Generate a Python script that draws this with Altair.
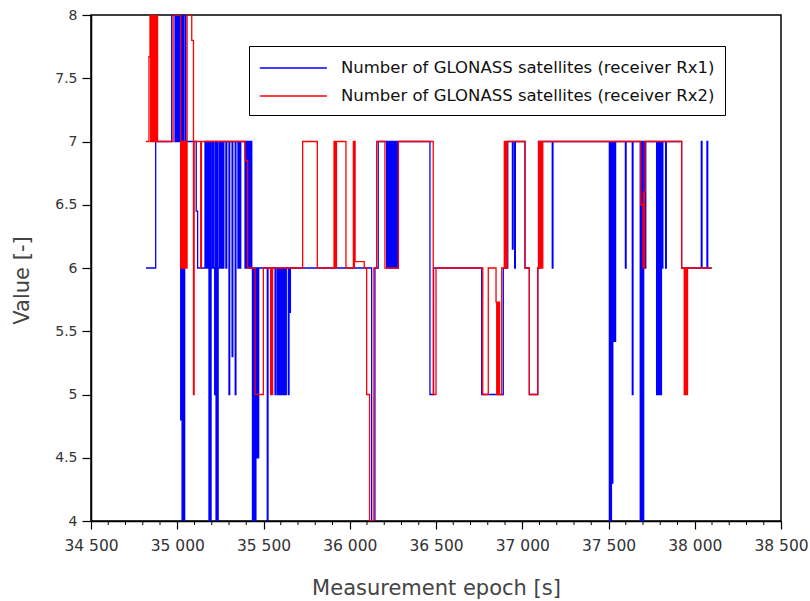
import altair as alt
import pandas as pd

# ---- data ----
rx1_t = [34819, 34875, 34968, 34987, 34992, 34997, 35002, 35007, 35012, 35017,
         35020, 35024, 35028, 35033, 35038, 35043, 35047, 35050,
         35110, 35118, 35161, 35166, 35170, 35175, 35179, 35184, 35188, 35192,
         35196, 35200, 35204, 35208, 35212, 35217, 35221, 35225, 35229, 35233,
         35237, 35242, 35246, 35250, 35254, 35258,
         35265, 35270, 35282, 35287, 35300, 35304, 35318, 35322, 35336, 35340,
         35352, 35357, 35364, 35368,
         35393, 35398, 35403, 35408, 35413, 35418, 35423, 35428, 35432,
         35436, 35440, 35444, 35448, 35452, 35456, 35460, 35464, 35468, 35472,
         35522, 35526,
         35567, 35571, 35580, 35584, 35588, 35592, 35596, 35600, 35604, 35608,
         35612, 35616, 35620, 35624, 35628, 35632, 35644, 35648, 35652, 35656,
         36127, 36146, 36165,
         36214, 36218, 36222, 36226, 36230, 36234, 36238, 36242, 36246, 36250,
         36254, 36258, 36262, 36266, 36270, 36274, 36278, 36282,
         36465, 36486, 36765, 36890,
         36916, 36943, 36947, 36956, 36960,
         37016, 37041, 37090, 37094, 37098, 37102, 37106,
         37174, 37178,
         37505, 37509, 37513, 37517, 37521, 37525, 37529, 37533, 37537, 37541,
         37598, 37602, 37638, 37642,
         37684, 37688, 37692, 37696, 37700, 37704, 37708, 37712, 37716,
         37779, 37783, 37787, 37791, 37795, 37799, 37803, 37807, 37811, 37815,
         37831, 37835, 37924, 38038, 38042, 38071, 38075, 38098]
rx1_v = [6, 7, 8, 7, 8, 7, 8, 7, 8, 7,
         4.8, 8, 4, 8, 4, 7, 8, 7,
         6.45, 6, 7, 6, 7, 6, 7, 4, 7, 4,
         6, 7, 6, 7, 6, 5, 7, 4, 7, 4,
         6, 7, 6, 7, 6, 7,
         6, 7, 6, 7, 5, 7, 5.3, 7, 5, 7,
         6, 7, 6, 7,
         6, 7, 6, 7, 6, 7, 6, 7, 6,
         4, 6, 4, 6, 4, 6, 4.5, 6, 4.5, 6,
         4, 6,
         5, 6, 5, 6, 5, 6, 5, 6, 5, 6,
         5, 6, 5, 6, 5, 6, 5, 6, 5.65, 6,
         4, 6, 7,
         6, 7, 6, 7, 6, 7, 6, 7, 6, 7,
         6, 7, 6, 7, 6, 7, 6, 7,
         5, 6, 5, 6,
         7, 6.15, 7, 6, 7,
         6, 5, 6, 7, 6, 7, 7,
         6, 7,
         4, 7, 4, 7, 4.3, 7, 5.42, 7, 5.42, 7,
         6, 7, 5, 7,
         4, 7, 4, 7, 4, 6.5, 7, 6, 7,
         5, 7, 5, 7, 5, 7, 5, 7, 6, 7,
         6, 7, 6, 7, 6, 7, 6, 6]

rx2_t = [34819, 34836, 34842, 34846, 34850, 34854, 34858, 34862, 34866, 34870,
         34874, 34878, 34882, 34886, 34888,
         34976, 35020, 35024, 35028, 35032, 35036, 35040, 35044, 35048, 35052,
         35057, 35084, 35094, 35098, 35136, 35140,
         35393, 35408, 35451, 35499, 35541, 35545, 35549, 35553,
         35727, 35812, 35909, 35911, 35915, 35919, 35923, 35978,
         36021, 36023, 36027, 36031, 36084,
         36098, 36115, 36140, 36156, 36204, 36281, 36484, 36500,
         36771, 36803, 36848, 36852, 36856, 36860, 36864, 36868, 36881,
         36896, 36900, 36904, 36908, 36912,
         37016, 37041, 37090, 37095, 37099, 37103, 37107, 37111, 37115, 37119,
         37687, 37700, 37703, 37706, 37709, 37712,
         37924, 37939, 37943, 37947, 37951, 37955, 37958, 38098]
rx2_v = [7, 7.67, 8, 7, 8, 7, 8, 7, 8, 7,
         8, 7, 8, 7, 7,
         8, 6, 7, 6, 7, 6, 7, 6, 7, 6,
         8, 7.8, 5, 7, 6, 7,
         6.85, 6, 5, 6, 5, 6, 5, 6,
         7, 6, 7, 6, 7, 6, 7, 6,
         7, 6, 7, 6.05, 6,
         5, 4, 6, 7, 6, 7, 5, 6,
         5, 6, 5.73, 5, 5.73, 5, 5.73, 5, 6,
         7, 6, 7, 6, 7,
         6, 5, 6, 7, 6, 7, 6, 7, 6, 7,
         6.5, 6, 6.6, 6, 6.6, 7,
         6, 5, 6, 5, 6, 5, 6, 6]

series_names = ["Number of GLONASS satellites (receiver Rx1)",
                "Number of GLONASS satellites (receiver Rx2)"]
series_colors = ["#0000ff", "#ff0000"]

x_major_ticks = [34500, 35000, 35500, 36000, 36500, 37000, 37500, 38000, 38500]
x_minor_ticks = [v for v in range(34600, 38500, 100) if v % 500]
y_ticks = [4, 4.5, 5, 5.5, 6, 6.5, 7, 7.5, 8]

df = pd.concat([
    pd.DataFrame({"t": rx1_t, "v": rx1_v, "s": series_names[0], "o": 0}),
    pd.DataFrame({"t": rx2_t, "v": rx2_v, "s": series_names[1], "o": 1}),
])
minor_df = pd.DataFrame({"t": x_minor_ticks})

W, H = 690, 506
FONT = "DejaVu Sans"

x_scale = alt.Scale(domain=[34500, 38500], nice=False, zero=False)
y_scale = alt.Scale(domain=[4, 8], nice=False, zero=False)

lines = alt.Chart(df).mark_line(interpolate="step-after", strokeWidth=1.3, clip=True).encode(
    x=alt.X("t:Q", scale=x_scale,
            axis=alt.Axis(values=x_major_ticks, title="Measurement epoch [s]",
                          labelExpr="replace(format(datum.value, ','), ',', ' ')",
                          tickSize=8, labelPadding=9, grid=False, labelFontSize=15.5,
                          labelFlush=False, labelOverlap=False,
                          titleY=67, titleBaseline="middle")),
    y=alt.Y("v:Q", scale=y_scale,
            axis=alt.Axis(values=y_ticks, title="Value [-]", tickSize=9, labelPadding=5,
                          format=".1~f", grid=False, titleX=-69, titleY=265, titleAngle=270,
                          labelFlush=False,
                          titleAlign="center", titleBaseline="middle")),
    color=alt.Color("s:N", scale=alt.Scale(domain=series_names, range=series_colors),
                    legend=alt.Legend(title=None, orient="none", legendX=158, legendY=31,
                                      symbolType="M-1,0H5", symbolStrokeWidth=1.5,
                                      symbolSize=500, labelFont=FONT, labelFontSize=16.5,
                                      labelLimit=0,
                                      labelColor="#111", strokeColor="black",
                                      fillColor="white", padding=10, rowPadding=7,
                                      labelOffset=58)),
    order=alt.Order("o:Q"),
    detail="s:N",
)

minor = alt.Chart(minor_df).mark_rule(color="black", strokeWidth=1).encode(
    x=alt.X("t:Q", scale=x_scale),
    y=alt.value(H),
    y2=alt.value(H + 4),
)

chart = alt.layer(lines, minor).properties(
    width=W, height=H,
    autosize=alt.AutoSizeParams(type="none"),
    padding={"left": 91, "top": 15, "right": 29, "bottom": 80},
).configure_view(
    stroke="black", strokeWidth=1.5
).configure_axis(
    domainColor="black", domainWidth=1.5, tickColor="black", tickWidth=1.2,
    labelFont=FONT, labelFontSize=14, labelColor="#333",
    titleFont=FONT, titleFontSize=21, titleFontWeight="normal", titleColor="#444",
)

chart.save("out.html", embed_options={"renderer": "svg", "actions": False})
